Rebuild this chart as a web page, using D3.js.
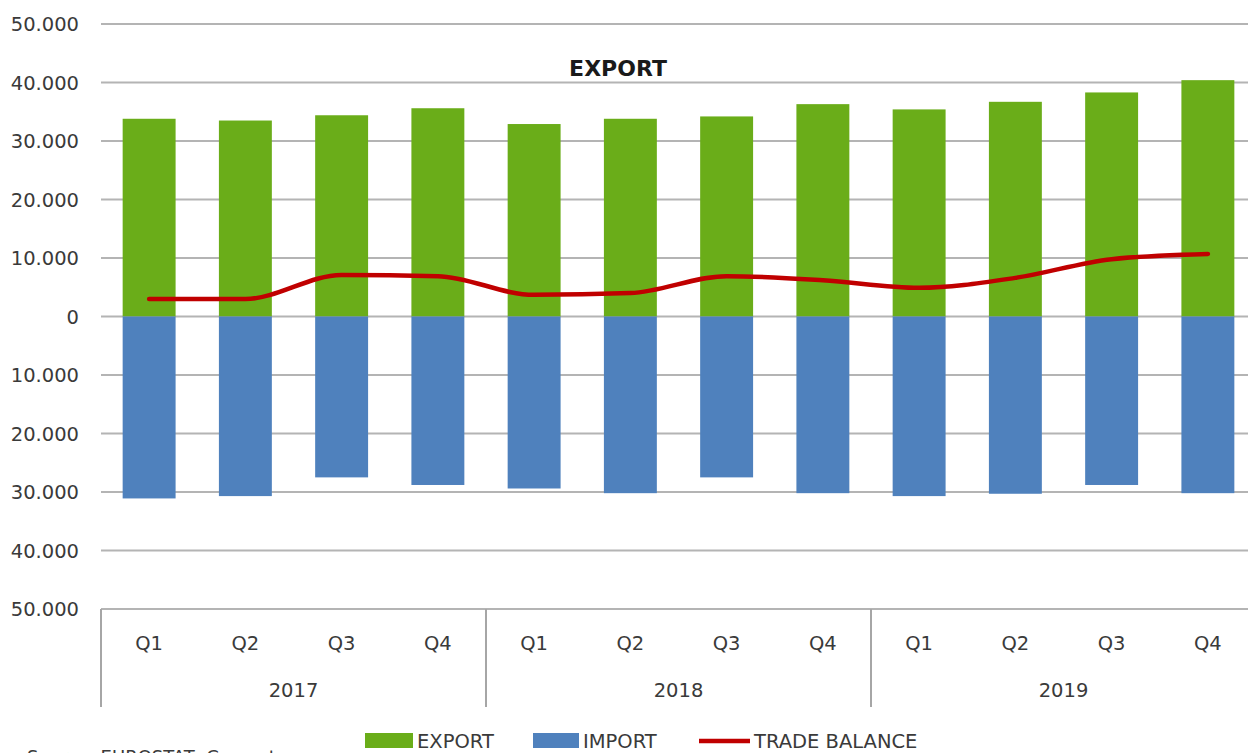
<!DOCTYPE html>
<html>
<head>
<meta charset="utf-8">
<script src="https://cdn.jsdelivr.net/npm/d3@7"></script>
<style>
  body { margin: 0; background: #fff; }
  svg text { font-family: "DejaVu Sans", sans-serif; fill: #3a3a3a; }
</style>
</head>
<body>
<svg width="1248" height="753"></svg>
<script>
// quarters and years on the category axis
var quarters = ["Q1", "Q2", "Q3", "Q4"];
var years = ["2017", "2018", "2019"];

// values in thousands of euro
var exportValues = [33800, 33500, 34400, 35600, 32900, 33800, 34200, 36300, 35400, 36700, 38300, 40400];
var importValues = [31100, 30700, 27500, 28800, 29400, 30200, 27500, 30200, 30700, 30300, 28800, 30200];
var balanceValues = [3000, 3000, 7100, 6900, 3700, 4000, 6900, 6200, 4900, 6600, 9800, 10700];

var yTicks = [50000, 40000, 30000, 20000, 10000, 0, -10000, -20000, -30000, -40000, -50000];

var svg = d3.select("svg"),
    width = +svg.attr("width"),
    height = +svg.attr("height");

var plotLeft = 101, plotRight = 1256, plotTop = 24, plotBottom = 609;

var keys = [];
years.forEach(function(yr) {
  quarters.forEach(function(q) { keys.push(yr + "-" + q); });
});

var data = keys.map(function(k, i) {
  return { key: k, q: k.split("-")[1], exp: exportValues[i], imp: importValues[i], bal: balanceValues[i] };
});

var x = d3.scaleBand()
    .domain(keys)
    .range([plotLeft, plotRight])
    .paddingInner(0.45)
    .paddingOuter(0.225);

var y = d3.scaleLinear()
    .domain([-50000, 50000])
    .range([plotBottom, plotTop]);

var fmt = d3.formatLocale({ decimal: ",", thousands: ".", grouping: [3], currency: ["", ""] }).format(",");

// gridlines
svg.append("g")
  .selectAll("line")
  .data(yTicks)
  .enter().append("line")
    .attr("x1", plotLeft)
    .attr("x2", width)
    .attr("y1", function(d) { return y(d); })
    .attr("y2", function(d) { return y(d); })
    .attr("stroke", "#b4b4b4")
    .attr("stroke-width", 2);

// y labels (absolute values)
svg.append("g")
  .selectAll("text")
  .data(yTicks)
  .enter().append("text")
    .attr("x", 79)
    .attr("y", function(d) { return y(d) + 7; })
    .attr("text-anchor", "end")
    .style("font-size", "19.5px")
    .text(function(d) { return fmt(Math.abs(d)); });

// export bars
svg.append("g")
  .selectAll("rect")
  .data(data)
  .enter().append("rect")
    .attr("x", function(d) { return x(d.key); })
    .attr("width", x.bandwidth())
    .attr("y", function(d) { return y(d.exp); })
    .attr("height", function(d) { return y(0) - y(d.exp); })
    .attr("fill", "#6aad19");

// import bars, drawn below zero
svg.append("g")
  .selectAll("rect")
  .data(data)
  .enter().append("rect")
    .attr("x", function(d) { return x(d.key); })
    .attr("width", x.bandwidth())
    .attr("y", y(0))
    .attr("height", function(d) { return y(-d.imp) - y(0); })
    .attr("fill", "#4f81bd");

// trade balance
var line = d3.line()
    .x(function(d) { return x(d.key) + x.bandwidth() / 2; })
    .y(function(d) { return y(d.bal); })
    .curve(d3.curveMonotoneX);

svg.append("path")
    .datum(data)
    .attr("d", line)
    .attr("fill", "none")
    .attr("stroke", "#c00000")
    .attr("stroke-width", 4.5)
    .attr("stroke-linecap", "round");

// title
svg.append("text")
    .attr("x", 618)
    .attr("y", 76)
    .attr("text-anchor", "middle")
    .style("font-size", "22px")
    .style("font-weight", "bold")
    .style("fill", "#1a1a1a")
    .text("EXPORT");

// category axis: quarter labels, year labels, separators
var axisG = svg.append("g");

axisG.selectAll(".qlabel")
  .data(data)
  .enter().append("text")
    .attr("class", "qlabel")
    .attr("x", function(d) { return x(d.key) + x.bandwidth() / 2; })
    .attr("y", 650)
    .attr("text-anchor", "middle")
    .style("font-size", "19.5px")
    .text(function(d) { return d.q; });

var step = x.step();

axisG.selectAll(".ylabel")
  .data(years)
  .enter().append("text")
    .attr("class", "ylabel")
    .attr("x", function(d, i) { return plotLeft + step * (i * 4 + 2); })
    .attr("y", 697)
    .attr("text-anchor", "middle")
    .style("font-size", "19.5px")
    .text(function(d) { return d; });

axisG.selectAll(".sep")
  .data(d3.range(years.length + 1))
  .enter().append("line")
    .attr("class", "sep")
    .attr("x1", function(i) { return plotLeft + step * i * 4; })
    .attr("x2", function(i) { return plotLeft + step * i * 4; })
    .attr("y1", plotBottom)
    .attr("y2", 707)
    .attr("stroke", "#a6a6a6")
    .attr("stroke-width", 2);

// legend
var legend = svg.append("g");
var legendItems = [
  { name: "EXPORT", type: "rect", color: "#6aad19", x: 365, w: 48 },
  { name: "IMPORT", type: "rect", color: "#4f81bd", x: 533, w: 46 },
  { name: "TRADE BALANCE", type: "line", color: "#c00000", x: 699, w: 51 }
];

legendItems.forEach(function(d) {
  if (d.type == "rect") {
    legend.append("rect")
      .attr("x", d.x).attr("y", 733)
      .attr("width", d.w).attr("height", 15)
      .attr("fill", d.color);
  } else {
    legend.append("line")
      .attr("x1", d.x).attr("x2", d.x + d.w)
      .attr("y1", 741).attr("y2", 741)
      .attr("stroke", d.color)
      .attr("stroke-width", 4.5);
  }
  legend.append("text")
    .attr("x", d.x + d.w + 4)
    .attr("y", 748)
    .style("font-size", "19.5px")
    .text(d.name);
});

// source note (cut by the bottom edge, as in the original)
svg.append("text")
    .attr("x", 27)
    .attr("y", 763)
    .style("font-size", "18px")
    .text("Source: EUROSTAT, Comext");
</script>
</body>
</html>
